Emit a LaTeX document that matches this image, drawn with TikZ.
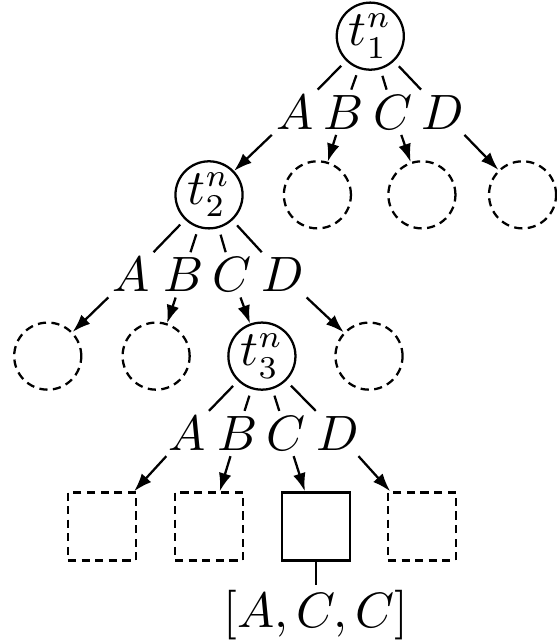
\documentclass[tikz,border=0pt]{standalone}
\usetikzlibrary{arrows.meta}
\tikzset{
  tnode/.style={circle,draw,inner sep=0pt,minimum size=0.52cm},
  emptynode/.style={circle,draw,dash pattern=on 1.8pt off 1.2pt,minimum size=0.52cm},
  emptyleaf/.style={rectangle,draw,dash pattern=on 1.8pt off 1.2pt,minimum size=0.527cm},
  leaf/.style={rectangle,draw,minimum size=0.527cm},
  lbl/.style={inner sep=1pt},
  edge/.style={shorten <=1.5pt},
  branch/.style={-{Latex[length=4pt,width=2.8pt]}}
}

\begin{document}
\begin{tikzpicture}[line width=0.5pt, font=\fontsize{10.6}{12}\selectfont]
    \useasboundingbox (0,0) rectangle (4.317,-4.968);
    % first level
    \node [tnode] (t1) at (2.87,-0.28) {$t^n_1$};
    \node [lbl] (l1a) at (2.29,-0.87) {$A$};
    \node [lbl] (l1b) at (2.66,-0.87) {$B$};
    \node [lbl] (l1c) at (3.05,-0.87) {$C$};
    \node [lbl] (l1d) at (3.43,-0.87) {$D$};
    \node [tnode] (t2) at (1.62,-1.51) {$t^n_2$};
    \node [emptynode] (e1b) at (2.46,-1.51) {};
    \node [emptynode] (e1c) at (3.27,-1.51) {};
    \node [emptynode] (e1d) at (4.05,-1.51) {};
    \foreach \x in {a,b,c,d} \draw [edge] (t1) -- (l1\x);
    \draw [branch] (l1a) -- (t2);
    \foreach \x in {b,c,d} \draw [branch] (l1\x) -- (e1\x);

    % second level
    \node [lbl] (l2a) at (1.02,-2.13) {$A$};
    \node [lbl] (l2b) at (1.42,-2.13) {$B$};
    \node [lbl] (l2c) at (1.80,-2.13) {$C$};
    \node [lbl] (l2d) at (2.19,-2.13) {$D$};
    \node [emptynode] (e2a) at (0.37,-2.76) {};
    \node [emptynode] (e2b) at (1.21,-2.76) {};
    \node [tnode] (t3) at (2.03,-2.76) {$t^n_3$};
    \node [emptynode] (e2d) at (2.86,-2.76) {};
    \foreach \x in {a,b,c,d} \draw [edge] (t2) -- (l2\x);
    \foreach \x in {a,b,d} \draw [branch] (l2\x) -- (e2\x);
    \draw [branch] (l2c) -- (t3);

    % third level
    \node [lbl] (l3a) at (1.45,-3.36) {$A$};
    \node [lbl] (l3b) at (1.84,-3.36) {$B$};
    \node [lbl] (l3c) at (2.22,-3.36) {$C$};
    \node [lbl] (l3d) at (2.62,-3.36) {$D$};
    \node [emptyleaf] (s3a) at (0.79,-4.08) {};
    \node [emptyleaf] (s3b) at (1.62,-4.08) {};
    \node [leaf] (s3c) at (2.45,-4.08) {};
    \node [emptyleaf] (s3d) at (3.27,-4.08) {};
    \foreach \x in {a,b,c,d} \draw [edge] (t3) -- (l3\x);
    \foreach \x in {a,b,c,d} \draw [branch] (l3\x) -- (s3\x);

    \node [lbl] (res) at (2.45,-4.77) {$[A,C,C]$};
    \draw [line width=0.4pt] (s3c) -- (res);
\end{tikzpicture}
\end{document}
